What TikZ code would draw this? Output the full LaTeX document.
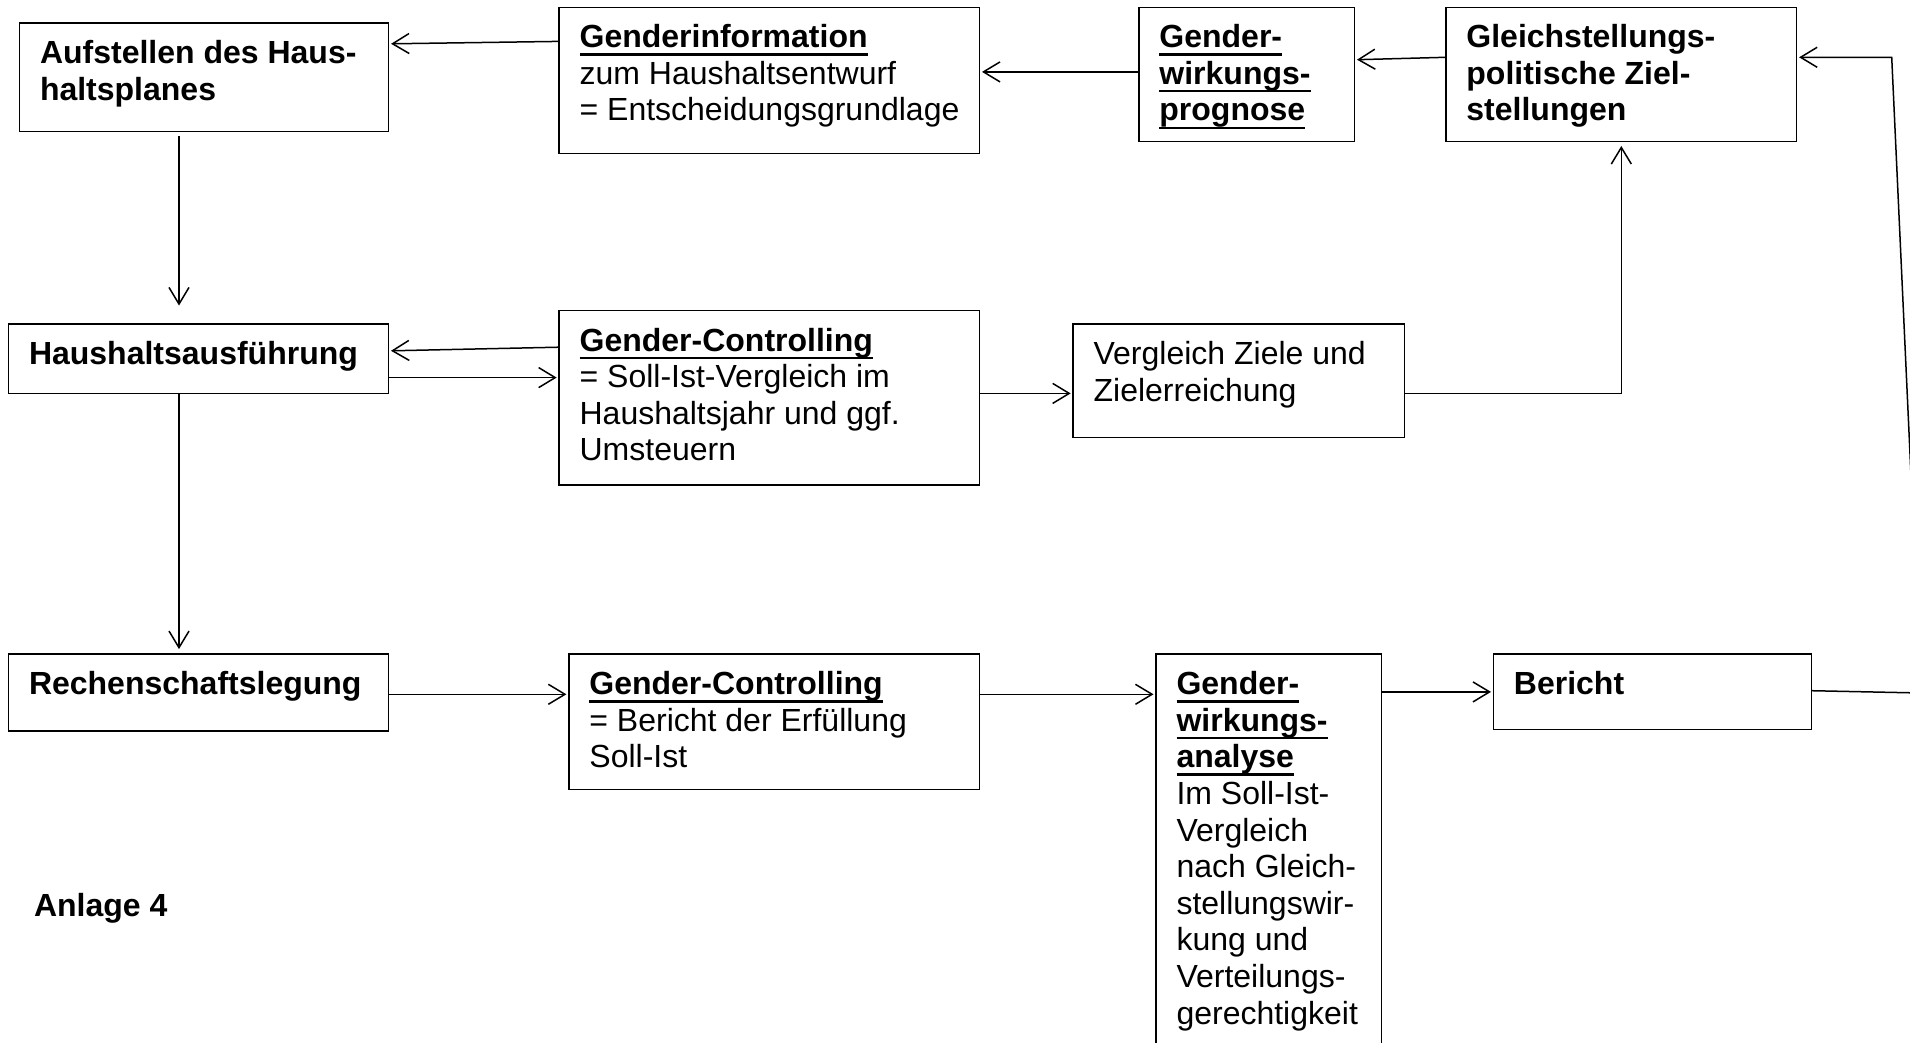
\documentclass[tikz,border=0pt]{standalone}
\usepackage{fontspec}
\setmainfont{Liberation Sans}
\usetikzlibrary{arrows.meta,calc}
\newcommand\ult[1]{\setbox0\hbox{#1}\rlap{\rule[-4pt]{\wd0}{1.2pt}}\box0}
\begin{document}
\begin{tikzpicture}[x=0.5pt,y=-0.5pt,
  box/.style={draw, line width=0.7pt, anchor=north west, inner sep=0pt, outer sep=0pt},
  txt/.style={anchor=base west, inner sep=0pt, outer sep=0pt, font=\fontsize{16}{18.3}\selectfont},
  arr/.style={line width=0.75pt, -{Straight Barb[length=8.3pt,width=10pt]}}]
\useasboundingbox (0,0) rectangle (1910,1043);
\fill[white] (0,0) rectangle (1910,1043);
\clip (0,0) rectangle (1910,1043);
% boxes
\node[box, minimum width=184.55pt, minimum height=54.25pt] (A) at (19.5,23.1) {};
\node[box, minimum width=210.15pt, minimum height=73.1pt] (B) at (559.1,7.3) {};
\node[box, minimum width=107.8pt, minimum height=67pt] (C) at (1138.9,7.3) {};
\node[box, minimum width=175.4pt, minimum height=67pt] (D) at (1445.9,7.3) {};
\node[box, minimum width=190.05pt, minimum height=34.7pt] (E) at (8.5,324) {};
\node[box, minimum width=210.15pt, minimum height=87.1pt] (F) at (559.1,310.6) {};
\node[box, minimum width=165.7pt, minimum height=56.65pt] (G) at (1073.1,324) {};
\node[box, minimum width=190.05pt, minimum height=38.4pt] (H) at (8.5,654.1) {};
\node[box, minimum width=205.25pt, minimum height=67.6pt] (I) at (568.9,654.1) {};
\node[box, minimum width=112.65pt, minimum height=202.95pt] (J) at (1156,654.1) {};
\node[box, minimum width=158.95pt, minimum height=37.75pt] (K) at (1493.4,654.1) {};
% texts
\node[txt] (tA) at ($(A.north west)+(20.5,40.5)$) {\bfseries\begin{tabular}[t]{@{}l@{}}Aufstellen des Haus-\\haltsplanes\end{tabular}};
\node[txt] (tB) at ($(B.north west)+(20.5,40.5)$) {\begin{tabular}[t]{@{}l@{}}\ult{\textbf{Genderinformation}}\\zum Haushaltsentwurf\\= Entscheidungsgrundlage\end{tabular}};
\node[txt] (tC) at ($(C.north west)+(20.5,40.5)$) {\bfseries\begin{tabular}[t]{@{}l@{}}\ult{Gender-}\\\ult{wirkungs-}\\\ult{prognose}\end{tabular}};
\node[txt] (tD) at ($(D.north west)+(20.5,40.5)$) {\bfseries\begin{tabular}[t]{@{}l@{}}Gleichstellungs-\\politische Ziel-\\stellungen\end{tabular}};
\node[txt] (tE) at ($(E.north west)+(20.5,40.5)$) {\textbf{Haushaltsausführung}};
\node[txt] (tF) at ($(F.north west)+(20.5,40.5)$) {\begin{tabular}[t]{@{}l@{}}\ult{\textbf{Gender-Controlling}}\\= Soll-Ist-Vergleich im\\Haushaltsjahr und ggf.\\Umsteuern\end{tabular}};
\node[txt] (tG) at ($(G.north west)+(20.5,40.5)$) {\begin{tabular}[t]{@{}l@{}}Vergleich Ziele und\\Zielerreichung\end{tabular}};
\node[txt] (tH) at ($(H.north west)+(20.5,40.5)$) {\textbf{Rechenschaftslegung}};
\node[txt] (tI) at ($(I.north west)+(20.5,40.5)$) {\begin{tabular}[t]{@{}l@{}}\ult{\textbf{Gender-Controlling}}\\= Bericht der Erfüllung\\Soll-Ist\end{tabular}};
\node[txt] (tJ) at ($(J.north west)+(20.5,40.5)$) {\begin{tabular}[t]{@{}l@{}}\ult{\textbf{Gender-}}\\\ult{\textbf{wirkungs-}}\\\ult{\textbf{analyse}}\\Im Soll-Ist-\\Vergleich\\nach Gleich-\\stellungswir-\\kung und\\Verteilungs-\\gerechtigkeit\end{tabular}};
\node[txt] (tK) at ($(K.north west)+(20.5,40.5)$) {\textbf{Bericht}};
\node[txt] (anl) at (34,916.5) {\textbf{Anlage 4}};
% connectors
\draw[arr] ($(B.north west)+(0,34.1)$) -- ($(A.north east)+(2.5,20.7)$);
\draw[arr] ($(C.north west)+(0,64.6)$) -- ($(B.north east)+(2.6,64.6)$);
\draw[arr] ($(D.north west)+(0,50)$) -- ($(C.north east)+(2.5,52.4)$);
\draw[arr] ($(A.south west)+(159.5,4.4)$) -- ($(E.north west)+(170.5,-18.5)$);
\draw[arr] ($(F.north west)+(0,36.6)$) -- ($(E.north east)+(2.4,26.8)$);
\draw[arr] ($(E.north east)+(0,53.6)$) -- ($(F.north west)+(-2.4,67)$);
\draw[arr] ($(E.south west)+(170.5,0)$) -- ($(H.north west)+(170.5,-5)$);
\draw[arr] ($(F.north east)+(0,82.8)$) -- ($(G.north west)+(-2.4,69.4)$);
\draw[arr] ($(G.north east)+(0,69.4)$) -| ($(D.south)+(0,4.7)$);
\draw[arr] ($(H.north east)+(0,40.2)$) -- ($(I.north west)+(-2.5,40.2)$);
\draw[arr] ($(I.north east)+(0,40.2)$) -- ($(J.north west)+(-2.5,40.2)$);
\draw[arr] ($(J.north east)+(0,37.8)$) -- ($(K.north west)+(-2.4,37.8)$);
\coordinate (kd1) at (1921,693);
\coordinate (kd2) at (1891.7,57.3);
\draw[arr] ($(K.north east)+(0,36.6)$) -- (kd1) -- (kd2) -- ($(D.north east)+(2.4,50)$);
\end{tikzpicture}
\end{document}
